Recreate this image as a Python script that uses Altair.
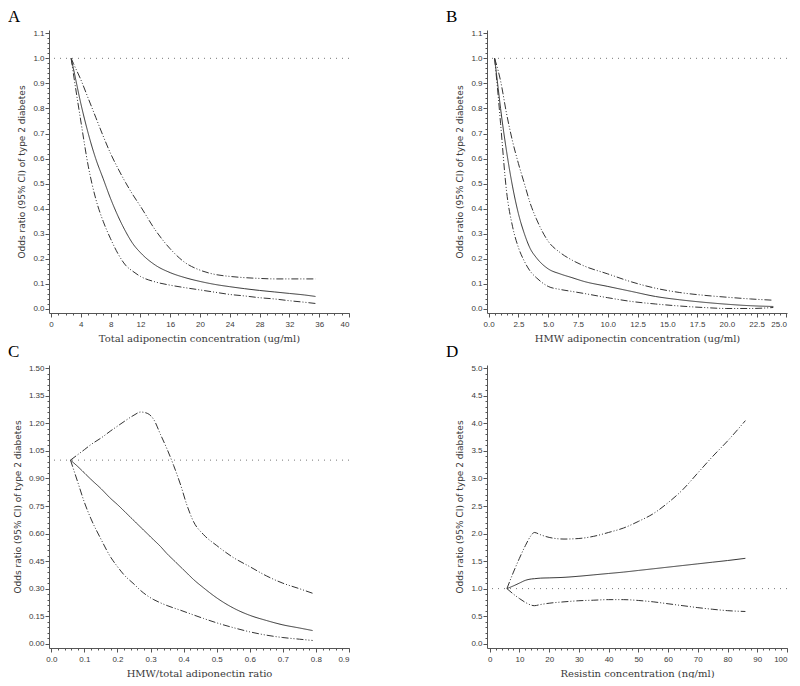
import altair as alt
import pandas as pd

# ---------------- Panel A: total adiponectin ----------------
a_x = [2.7, 3, 4, 5, 6, 7, 8, 9, 10, 11, 12, 14, 16, 18, 20, 22, 24, 26, 28, 30, 32, 34, 35.5]
a_est = [1.0, 0.96, 0.82, 0.70, 0.60, 0.52, 0.44, 0.37, 0.31, 0.26, 0.225, 0.175, 0.145, 0.125,
         0.11, 0.098, 0.089, 0.081, 0.074, 0.068, 0.062, 0.056, 0.05]
a_up = [1.0, 0.98, 0.915, 0.84, 0.765, 0.69, 0.62, 0.56, 0.505, 0.455, 0.41, 0.315, 0.24, 0.185,
        0.155, 0.138, 0.13, 0.125, 0.122, 0.12, 0.12, 0.12, 0.12]
a_low = [1.0, 0.94, 0.75, 0.57, 0.44, 0.35, 0.28, 0.22, 0.175, 0.15, 0.13, 0.108, 0.095, 0.085,
         0.076, 0.067, 0.058, 0.052, 0.045, 0.04, 0.033, 0.027, 0.022]

# ---------------- Panel B: HMW adiponectin ----------------
b_x = [0.5, 0.8, 1, 1.5, 2, 2.5, 3, 3.5, 4, 5, 6, 7, 8, 10, 12, 14, 16, 18, 20, 22, 23.9]
b_est = [1.0, 0.88, 0.80, 0.63, 0.49, 0.38, 0.30, 0.24, 0.205, 0.16, 0.14, 0.125, 0.11, 0.09,
         0.07, 0.05, 0.037, 0.027, 0.019, 0.013, 0.01]
b_up = [1.0, 0.95, 0.91, 0.78, 0.67, 0.58, 0.50, 0.42, 0.36, 0.27, 0.225, 0.195, 0.172, 0.14,
        0.108, 0.083, 0.066, 0.055, 0.047, 0.04, 0.035]
b_low = [1.0, 0.85, 0.74, 0.47, 0.33, 0.245, 0.19, 0.15, 0.125, 0.09, 0.078, 0.07, 0.062, 0.045,
         0.03, 0.02, 0.012, 0.006, 0.002, 0.002, 0.006]

# ---------------- Panel C: HMW/total ratio ----------------
c_x = [0.058, 0.08, 0.1, 0.12, 0.15, 0.18, 0.2, 0.22, 0.25, 0.27, 0.29, 0.31, 0.33, 0.35, 0.37,
       0.39, 0.41, 0.43, 0.46, 0.5, 0.55, 0.6, 0.65, 0.7, 0.75, 0.79]
c_est = [1.0, 0.965, 0.93, 0.895, 0.845, 0.79, 0.758, 0.723, 0.67, 0.635, 0.60, 0.565, 0.53, 0.49,
         0.455, 0.42, 0.385, 0.35, 0.305, 0.25, 0.195, 0.155, 0.127, 0.103, 0.086, 0.072]
c_up = [1.0, 1.03, 1.057, 1.085, 1.12, 1.16, 1.185, 1.21, 1.245, 1.262, 1.255, 1.22, 1.14, 1.06,
        0.97, 0.87, 0.755, 0.665, 0.595, 0.535, 0.47, 0.42, 0.37, 0.33, 0.30, 0.275]
c_low = [1.0, 0.88, 0.77, 0.68, 0.57, 0.47, 0.42, 0.375, 0.325, 0.29, 0.262, 0.24, 0.223, 0.208,
         0.195, 0.183, 0.17, 0.157, 0.138, 0.114, 0.088, 0.065, 0.047, 0.034, 0.025, 0.018]

# ---------------- Panel D: resistin ----------------
d_x = [5.8, 8, 10, 12, 14, 15, 17, 20, 25, 30, 35, 40, 45, 50, 55, 60, 65, 70, 75, 80, 86]
d_est = [1.0, 1.05, 1.10, 1.15, 1.175, 1.18, 1.19, 1.195, 1.205, 1.225, 1.25, 1.275, 1.30, 1.33,
         1.36, 1.39, 1.42, 1.45, 1.48, 1.51, 1.55]
d_up = [1.0, 1.3, 1.55, 1.78, 1.97, 2.02, 1.98, 1.93, 1.90, 1.91, 1.95, 2.02, 2.1, 2.22, 2.36,
        2.56, 2.8, 3.1, 3.4, 3.68, 4.05]
d_low = [1.0, 0.9, 0.82, 0.75, 0.70, 0.69, 0.71, 0.735, 0.76, 0.78, 0.79, 0.80, 0.80, 0.785, 0.76,
         0.725, 0.69, 0.655, 0.625, 0.60, 0.585]

# ---------------- Axis ticks ----------------
a_xticks = [0, 4, 8, 12, 16, 20, 24, 28, 32, 36, 40]
b_xticks = [0, 2.5, 5, 7.5, 10, 12.5, 15, 17.5, 20, 22.5, 25]
c_xticks = [0, 0.1, 0.2, 0.3, 0.4, 0.5, 0.6, 0.7, 0.8, 0.9]
d_xticks = [0, 10, 20, 30, 40, 50, 60, 70, 80, 90, 100]
ab_yticks = [0, 0.1, 0.2, 0.3, 0.4, 0.5, 0.6, 0.7, 0.8, 0.9, 1.0, 1.1]
c_yticks = [0, 0.15, 0.30, 0.45, 0.60, 0.75, 0.90, 1.05, 1.20, 1.35, 1.50]
d_yticks = [0, 0.5, 1.0, 1.5, 2.0, 2.5, 3.0, 3.5, 4.0, 4.5, 5.0]

Y_TITLE = "Odds ratio (95% CI) of type 2 diabetes"
LINE = "#333333"
TEXT = "#3a3a3a"
DASH = [7, 2, 1, 2, 1, 2]


def minor(lo, hi, step):
    n = int(round((hi - lo) / step))
    return [round(lo + i * step, 6) for i in range(n + 1)]


def long_df(xs, est, low, up):
    rows = []
    for s, vals in (("est", est), ("lower", low), ("upper", up)):
        for xv, yv in zip(xs, vals):
            rows.append({"x": xv, "y": yv, "series": s})
    return pd.DataFrame(rows)


def panel(df, letter, xdom, ydom, xmaj, xmin, ymaj, ymin, xfmt, yfmt, xtitle):
    xs = alt.Scale(domain=xdom, nice=False, zero=False)
    ys = alt.Scale(domain=ydom, nice=False, zero=False)
    lines = alt.Chart(df).mark_line(strokeWidth=1, color=LINE, interpolate="monotone").encode(
        x=alt.X("x:Q", scale=xs, axis=alt.Axis(values=xmaj, format=xfmt, title=xtitle, orient="bottom",
                                               tickSize=4, labelPadding=3, titlePadding=5,
                                               titleFont="DejaVu Serif", titleFontSize=10)),
        y=alt.Y("y:Q", scale=ys, axis=alt.Axis(values=ymaj, format=yfmt, title=Y_TITLE, orient="left",
                                               tickSize=4, labelPadding=1, titlePadding=6,
                                               titleFont="DejaVu Sans", titleFontSize=9)),
        strokeDash=alt.StrokeDash("series:N",
                                  scale=alt.Scale(domain=["est", "lower", "upper"],
                                                  range=[[1, 0], DASH, DASH]),
                                  legend=None),
    )
    ticks = alt.Chart(df).mark_point(opacity=0).encode(
        x=alt.X("x:Q", scale=xs, axis=alt.Axis(values=xmin, labels=False, domain=False, tickSize=2,
                                               title="", orient="bottom")),
        y=alt.Y("y:Q", scale=ys, axis=alt.Axis(values=ymin, labels=False, domain=False, tickSize=2,
                                               title="", orient="left")),
    )
    ref = alt.Chart(pd.DataFrame({"ref": [1.0]})).mark_rule(
        strokeDash=[1, 5], color="#777777", strokeWidth=1
    ).encode(y=alt.Y("ref:Q", scale=ys, axis=None))
    return alt.layer(ref, lines, ticks).resolve_axis(x="independent", y="independent").properties(
        width=300, height=283,
        title=alt.TitleParams(letter, anchor="start", frame="group", dx=-41, offset=3,
                              font="Liberation Serif", fontSize=17, fontWeight="normal",
                              color="#000000"),
    )


pA = panel(long_df(a_x, a_est, a_low, a_up), "A", [-0.27, 40], [-0.016, 1.113],
           a_xticks, minor(0, 40, 1), ab_yticks, minor(0, 1.1, 0.02), "d", ".1f",
           "Total adiponectin concentration (ug/ml)")
pB = panel(long_df(b_x, b_est, b_low, b_up), "B", [-0.14, 25.05], [-0.016, 1.113],
           b_xticks, minor(0, 25, 0.5), ab_yticks, minor(0, 1.1, 0.02), ".1f", ".1f",
           "HMW adiponectin concentration (ug/ml)")
pC = panel(long_df(c_x, c_est, c_low, c_up), "C", [-0.007, 0.9], [-0.023, 1.518],
           c_xticks, minor(0, 0.9, 0.02), c_yticks, minor(0, 1.5, 0.03), ".1f", ".2f",
           "HMW/total adiponectin ratio")
pD = panel(long_df(d_x, d_est, d_low, d_up), "D", [-0.9, 100], [-0.078, 5.06],
           d_xticks, minor(0, 100, 2), d_yticks, minor(0, 5, 0.1), "d", ".1f",
           "Resistin concentration (ng/ml)")

chart = alt.concat(
    pA, pB, pC, pD, columns=2, spacing=alt.RowColnumber(row=52, column=138), bounds="flush"
).properties(
    padding={"left": 0, "top": 0, "right": 0, "bottom": 0}
).configure_view(
    stroke=None
).configure_axis(
    grid=False,
    domainColor="#555555",
    tickColor="#555555",
    labelFont="Liberation Sans",
    labelFontSize=8,
    labelColor=TEXT,
    titleFontWeight="normal",
    titleColor=TEXT,
)

chart.save("out.html", embed_options={"renderer": "svg", "actions": False})
